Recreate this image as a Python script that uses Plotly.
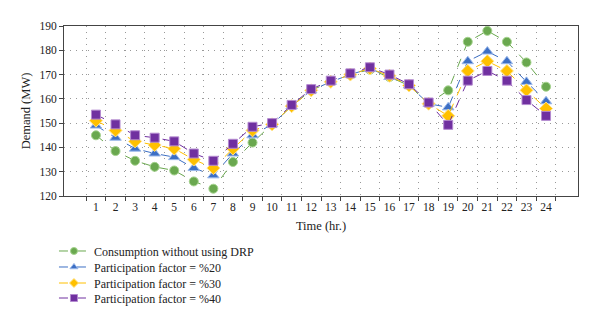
import plotly.graph_objects as go

hours = [str(h) for h in range(1, 25)]

no_drp = [145, 138.5, 134.5, 132, 130.5, 126, 123, 134, 142, 149.5, 157, 163.5,
          167, 170, 172, 169, 165.5, 158, 163.5, 183.5, 188, 183.5, 175, 165]
pf20 = [149, 144, 139.5, 137.5, 136, 131.5, 128.5, 137.5, 145, 149.5, 157, 163.5,
        167, 170, 172.5, 169, 165.5, 158, 156.5, 175.5, 179.5, 175.5, 167, 159]
pf30 = [151, 147, 142.5, 141, 139.5, 135, 131.5, 139.5, 147, 149.5, 157, 163.5,
        167, 170, 172.5, 169.5, 165.5, 158, 153, 171.5, 175.5, 171.5, 163.5, 156]
pf40 = [153.5, 149.5, 145, 144, 142.5, 137.5, 134.5, 141.5, 148.5, 150, 157.5, 164,
        167.5, 170.5, 173, 170, 166, 158.5, 149.3, 167.5, 171.5, 167.5, 159.5, 153]

series = [
    ("Consumption without using DRP", no_drp, "#6aa84f", "#a5d38e", "circle", 9),
    ("Participation factor = %20", pf20, "#3d6fc4", "#9ab8ea", "triangle-up", 10),
    ("Participation factor = %30", pf30, "#ffc000", "#ffe38a", "diamond", 10),
    ("Participation factor = %40", pf40, "#7030a0", "#b48ad0", "square", 9),
]

font_family = "Liberation Serif"
legend_rows = [-0.3235, -0.4176, -0.5118, -0.6]

fig = go.Figure()
legend_layouts = {}
for i, (name, vals, color, edge, sym, msize) in enumerate(series):
    lg = "legend" if i == 0 else f"legend{i + 1}"
    fig.add_trace(go.Scatter(
        x=hours, y=vals, name=name, mode="lines+markers", showlegend=False,
        line=dict(color=color, width=1, dash="dash"),
        marker=dict(symbol=sym, size=msize, color=color,
                    line=dict(color=edge, width=1)),
    ))
    # legend key with a smaller symbol
    fig.add_trace(go.Scatter(
        x=[None], y=[None], name=name, mode="lines+markers", legend=lg,
        line=dict(color=color, width=1, dash="dash"),
        marker=dict(symbol=sym, size=7, color=color,
                    line=dict(color=edge, width=1)),
    ))
    legend_layouts[lg] = dict(
        x=-0.0195, y=legend_rows[i], xanchor="left", yanchor="middle",
        font=dict(size=12, family=font_family, color="#222"),
        bgcolor="rgba(0,0,0,0)", borderwidth=0,
    )

fig.update_layout(
    width=600, height=326,
    margin=dict(l=64, r=22, t=26, b=130),
    paper_bgcolor="white", plot_bgcolor="white",
    font=dict(family=font_family, size=11.5, color="#222"),
    showlegend=True,
    xaxis=dict(
        type="category", tickson="boundaries", ticks="outside", ticklen=4,
        tickangle=0, automargin=False,
        tickcolor="#444", showgrid=True, gridcolor="#999", griddash="1px,5px",
        gridwidth=1, showline=True, linecolor="#444", linewidth=1, mirror=True,
        title=dict(text="Time (hr.)", font=dict(size=12.5), standoff=9),
        tickfont=dict(size=11.5),
    ),
    yaxis=dict(
        range=[120, 190], dtick=10, ticks="outside", ticklen=4, tickcolor="#444",
        automargin=False,
        showgrid=True, gridcolor="#999", griddash="1px,5px", gridwidth=1,
        showline=True, linecolor="#444", linewidth=1, mirror=True,
        zeroline=False,
        title=dict(text="Demand (MW)", font=dict(size=12.5), standoff=6),
        tickfont=dict(size=11.5),
    ),
    **legend_layouts,
)

fig.write_html("out.html")
